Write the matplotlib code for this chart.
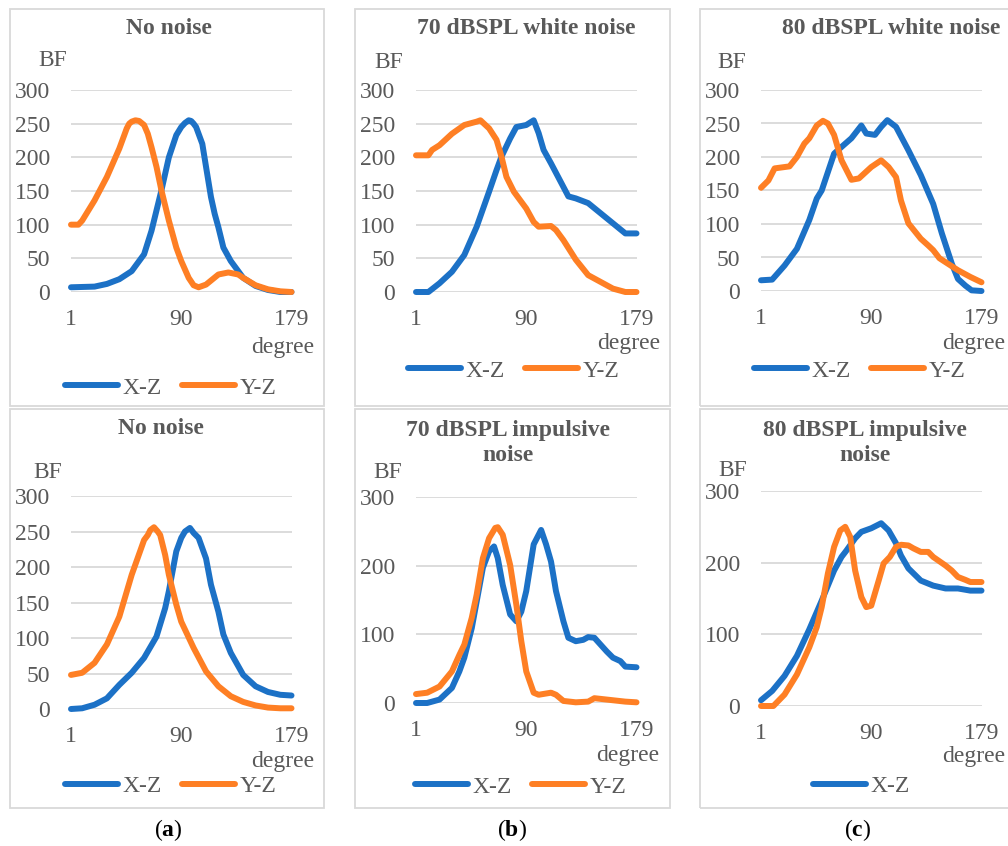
import matplotlib
matplotlib.use("Agg")
import matplotlib.pyplot as plt
from matplotlib.patches import Rectangle

# figure size in pixels (dpi 100)
W, H = 1008, 846

# ---- data (degree, BF) ----
ticks_x = [1, 90, 179]

tl_xz_deg = [1, 20, 30, 40, 50, 60, 66, 70, 74, 80, 86, 90, 93, 96, 98, 100, 102, 104, 107, 110, 114, 117, 120, 124, 130, 140, 150, 160, 170, 179]
tl_xz_val = [7, 8, 12, 19, 31, 56, 91, 121, 151, 200, 233, 245, 251, 255, 254, 250, 245, 235, 220, 186, 141, 116, 96, 66, 46, 21, 9, 3, 0, 0]
tl_yz_deg = [1, 7, 10, 20, 30, 40, 43, 46, 48, 50, 53, 56, 60, 63, 66, 70, 74, 80, 86, 90, 96, 100, 104, 110, 120, 128, 136, 140, 150, 160, 170, 179]
tl_yz_val = [100, 100, 106, 136, 171, 213, 228, 243, 250, 253, 255, 254, 248, 235, 215, 186, 151, 106, 66, 46, 21, 10, 7, 11, 26, 29, 26, 21, 10, 4, 1, 0]

tm_xz_deg = [1, 11, 20, 30, 40, 50, 60, 66, 70, 77, 82, 90, 96, 100, 104, 110, 120, 124, 130, 140, 150, 160, 170, 179]
tm_xz_val = [0, 0, 13, 30, 55, 97, 149, 181, 201, 228, 245, 248, 255, 236, 211, 191, 156, 142, 139, 132, 117, 102, 87, 87]
tm_yz_deg = [1, 11, 14, 20, 30, 40, 50, 53, 60, 66, 70, 74, 80, 90, 96, 100, 110, 114, 120, 130, 140, 150, 160, 170, 179]
tm_yz_val = [203, 203, 211, 218, 235, 248, 253, 255, 243, 226, 201, 171, 149, 124, 104, 97, 98, 92, 77, 48, 25, 15, 5, 0, 0]

tr_xz_deg = [1, 10, 20, 30, 40, 46, 50, 60, 66, 74, 82, 86, 93, 98, 103, 110, 120, 130, 140, 147, 155, 160, 166, 171, 179]
tr_xz_val = [16, 17, 38, 63, 106, 138, 150, 205, 215, 228, 247, 235, 233, 245, 255, 245, 210, 173, 130, 86, 41, 18, 8, 1, 0]
tr_yz_deg = [1, 7, 12, 20, 24, 30, 36, 40, 46, 51, 55, 60, 66, 74, 80, 90, 98, 104, 110, 114, 120, 130, 136, 140, 145, 150, 160, 170, 179]
tr_yz_val = [154, 165, 183, 185, 186, 200, 220, 228, 247, 254, 250, 233, 195, 166, 168, 185, 195, 185, 170, 135, 101, 78, 68, 61, 49, 43, 31, 21, 13]

bl_xz_deg = [1, 10, 20, 30, 40, 50, 60, 70, 77, 80, 86, 90, 93, 97, 100, 104, 110, 114, 120, 124, 130, 140, 150, 160, 170, 179]
bl_xz_val = [0, 1, 6, 15, 34, 51, 72, 102, 142, 166, 222, 241, 250, 255, 248, 241, 212, 175, 137, 105, 79, 48, 32, 24, 20, 19]
bl_yz_deg = [1, 10, 20, 30, 40, 50, 60, 63, 65, 68, 71, 73, 77, 80, 86, 90, 100, 110, 120, 130, 140, 150, 160, 170, 179]
bl_yz_val = [48, 51, 65, 91, 130, 189, 238, 245, 252, 256, 250, 245, 217, 189, 147, 123, 86, 53, 32, 18, 10, 5, 2, 1, 1]

bm_xz_deg = [1, 10, 20, 30, 36, 40, 46, 50, 55, 60, 64, 67, 71, 77, 82, 86, 90, 96, 102, 106, 110, 114, 120, 124, 130, 136, 140, 145, 150, 155, 160, 166, 170, 179]
bm_xz_val = [0, 0, 5, 22, 46, 66, 109, 148, 197, 221, 228, 211, 172, 129, 119, 133, 163, 231, 252, 231, 206, 163, 119, 95, 90, 92, 96, 95, 85, 75, 66, 61, 53, 52]
bm_yz_deg = [1, 10, 20, 30, 36, 40, 46, 50, 55, 60, 65, 67, 71, 77, 82, 86, 90, 96, 100, 110, 114, 120, 130, 140, 145, 150, 160, 170, 179]
bm_yz_val = [13, 15, 24, 46, 70, 85, 124, 158, 211, 240, 255, 256, 245, 201, 143, 90, 46, 15, 12, 15, 12, 3, 1, 2, 7, 6, 4, 2, 1]

br_xz_deg = [1, 10, 20, 30, 40, 50, 60, 66, 70, 77, 82, 90, 98, 104, 110, 114, 120, 130, 140, 150, 160, 170, 179]
br_xz_val = [8, 21, 42, 70, 107, 147, 189, 208, 217, 234, 243, 248, 255, 245, 227, 210, 192, 175, 168, 164, 164, 161, 161]
br_yz_deg = [1, 11, 20, 30, 40, 46, 50, 55, 60, 65, 69, 73, 77, 82, 86, 90, 96, 100, 105, 110, 114, 120, 124, 130, 136, 140, 150, 155, 160, 166, 170, 179]
br_yz_val = [0, 0, 16, 44, 82, 110, 138, 185, 222, 245, 250, 236, 189, 152, 138, 140, 175, 199, 208, 222, 225, 224, 220, 215, 215, 208, 196, 189, 180, 176, 173, 173]

BLUE = "#1c71c6"
ORANGE = "#fe7f24"
GRAY = "#595959"
GRID = "#d9d9d9"

plt.rcParams["font.family"] = ["Liberation Serif", "DejaVu Serif"]
plt.rcParams["mathtext.fontset"] = "custom"
plt.rcParams["mathtext.rm"] = "Liberation Serif"
plt.rcParams["mathtext.bf"] = "Liberation Serif:bold"

fig = plt.figure(figsize=(W / 100, H / 100), dpi=100)


def fx(x):
    return x / W


def fy(y):
    return 1 - y / H


# layout of each panel in pixels
panels = [
    dict(title="No noise", tpos=(169, 28), box=(10, 9, 324, 406), ax=(71, 90, 291.5, 292),
         yticks=[0, 50, 100, 150, 200, 250, 300], bf=(53, 61), deg=(283, 348), leg=(65, 388),
         xz=(tl_xz_deg, tl_xz_val), yz=(tl_yz_deg, tl_yz_val), both=True),
    dict(title="70 dBSPL white noise", tpos=(526, 28), box=(355, 9, 670, 406), ax=(416, 90, 636.5, 292),
         yticks=[0, 50, 100, 150, 200, 250, 300], bf=(389, 62), deg=(629, 344), leg=(408, 371),
         xz=(tm_xz_deg, tm_xz_val), yz=(tm_yz_deg, tm_yz_val), both=True),
    dict(title="80 dBSPL white noise", tpos=(891, 28), box=(700, 9, 1030, 406), ax=(761, 90, 981.5, 291),
         yticks=[0, 50, 100, 150, 200, 250, 300], bf=(732, 63), deg=(974, 344), leg=(754, 371),
         xz=(tr_xz_deg, tr_xz_val), yz=(tr_yz_deg, tr_yz_val), both=True),
    dict(title="No noise", tpos=(161, 428), box=(10, 409, 324, 808), ax=(71, 496, 291.5, 709),
         yticks=[0, 50, 100, 150, 200, 250, 300], bf=(48, 472), deg=(283, 761), leg=(65, 786),
         xz=(bl_xz_deg, bl_xz_val), yz=(bl_yz_deg, bl_yz_val), both=True),
    dict(title="70 dBSPL impulsive\nnoise", tpos=(508, 443), box=(355, 409, 670, 808), ax=(416, 497, 636.5, 703),
         yticks=[0, 100, 200, 300], bf=(388, 472), deg=(628, 755), leg=(415, 787),
         xz=(bm_xz_deg, bm_xz_val), yz=(bm_yz_deg, bm_yz_val), both=True),
    dict(title="80 dBSPL impulsive\nnoise", tpos=(865, 443), box=(700, 409, 1030, 808), ax=(761, 491, 981.5, 706),
         yticks=[0, 100, 200, 300], bf=(733, 470), deg=(974, 756), leg=(813, 786),
         xz=(br_xz_deg, br_xz_val), yz=(br_yz_deg, br_yz_val), both=False),
]

FS = 17
LW = 4.3

for p in panels:
    x0, y0, x1, y1 = p["box"]
    fig.patches.append(Rectangle((fx(x0), fy(y1)), fx(x1 - x0), (y1 - y0) / H,
                                 transform=fig.transFigure, fill=False, ec=GRID, lw=1.3))
    a0, b0, a1, b1 = p["ax"]
    ax = fig.add_axes([fx(a0), fy(b1), fx(a1 - a0), (b1 - b0) / H])
    ax.set_xlim(1, 179)
    ax.set_ylim(0, 300)
    ax.set_xticks(ticks_x)
    ax.set_yticks(p["yticks"])
    ax.grid(axis="y", color=GRID, lw=1.3)
    ax.set_axisbelow(True)
    for s in ax.spines.values():
        s.set_visible(False)
    ax.tick_params(axis="both", length=0, labelsize=FS, colors=GRAY)
    ax.tick_params(axis="y", pad=15)
    ax.tick_params(axis="x", pad=12)

    l1, = ax.plot(p["xz"][0], p["xz"][1], color=BLUE, lw=LW, label="X-Z",
                  solid_capstyle="round", solid_joinstyle="round", clip_on=False)
    l2, = ax.plot(p["yz"][0], p["yz"][1], color=ORANGE, lw=LW, label="Y-Z",
                  solid_capstyle="round", solid_joinstyle="round", clip_on=False)

    fig.text(fx(p["tpos"][0]), fy(p["tpos"][1]), p["title"], ha="center", va="center",
             fontsize=FS, fontweight="bold", color=GRAY, linespacing=1.2)
    fig.text(fx(p["bf"][0]), fy(p["bf"][1]), "BF", ha="center", va="center", fontsize=FS, color=GRAY)
    fig.text(fx(p["deg"][0]), fy(p["deg"][1]), "degree", ha="center", va="center", fontsize=FS, color=GRAY)

    handles = [l1, l2] if p["both"] else [l1]
    ax.legend(handles=handles, loc="center left",
              bbox_to_anchor=(fx(p["leg"][0]), fy(p["leg"][1])), bbox_transform=fig.transFigure,
              ncol=2, frameon=False, fontsize=FS, labelcolor=GRAY, borderpad=0, borderaxespad=0,
              handlelength=2.25, handletextpad=0.2, columnspacing=0.85)

# sub-figure labels
for lab, cx in zip(["a", "b", "c"], [168, 512, 858]):
    fig.text(fx(cx), fy(830), r"$(\mathbf{%s})$" % lab, ha="center", va="center",
             fontsize=FS, color="black")

fig.savefig("out.png", dpi=100)
